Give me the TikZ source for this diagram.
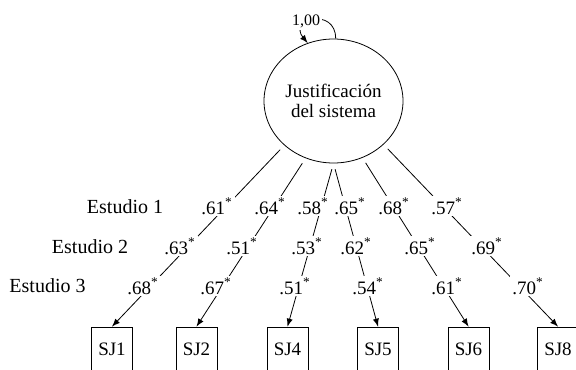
\documentclass[tikz,border=0pt]{standalone}
\usepackage{fontspec}
\setmainfont{Liberation Serif}
\usetikzlibrary{shapes,arrows,positioning}

\begin{document}
\begin{tikzpicture}[
    x=0.5pt, y=-0.5pt,
    >=latex,
    latent/.style={ellipse, draw, minimum width=69.5pt, minimum height=62pt, inner sep=0pt, align=center, font=\fontsize{9.5}{10}\selectfont},
    item/.style={rectangle, draw, minimum width=20.5pt, minimum height=22pt, inner sep=0pt, font=\fontsize{9.5}{11}\selectfont},
    load/.style={fill=white, inner sep=1pt, font=\fontsize{9.5}{11}\selectfont},
    study/.style={font=\fontsize{10}{12}\selectfont},
    path/.style={->, shorten <=3pt}
]
\useasboundingbox (0,0) rectangle (576,369);

% Latent factor
\node[latent] (sys) at (333.5,101) {Justificaci\'on\\del sistema};
\draw[->] (sys.88) .. controls +(0,-32) and +(-20,-24) .. (sys.114);
\node[load, font=\fontsize{8}{9}\selectfont] (var) at (306,21) {1,00};

% Items
\node[item] (sj1) at (112,349) {SJ1};
\node[item] (sj2) at (196.5,349) {SJ2};
\node[item] (sj4) at (287.5,349) {SJ4};
\node[item] (sj5) at (378,349) {SJ5};
\node[item] (sj6) at (468.5,349) {SJ6};
\node[item] (sj8) at (558,349) {SJ8};

% Loadings
\draw[path] (sys.222) -- (sj1.north);
\draw[path] (sys.244) -- (sj2.north);
\draw[path] (sys.south) -- (sj4.north);
\draw[path] (sys.south) -- (sj5.north);
\draw[path] (sys.297) -- (sj6.north);
\draw[path] (sys.319) -- (sj8.north);

% Study labels
\node[study] (est1) at (125,207) {Estudio 1};
\node[study] (est2) at (90,247) {Estudio 2};
\node[study] (est3) at (47.5,286) {Estudio 3};

% Estudio 1
\node[load] (e1sj1) at (217,206) {.61\textsuperscript{*}};
\node[load] (e1sj2) at (270,206) {.64\textsuperscript{*}};
\node[load] (e1sj4) at (313,206) {.58\textsuperscript{*}};
\node[load] (e1sj5) at (350,206) {.65\textsuperscript{*}};
\node[load] (e1sj6) at (394,206) {.68\textsuperscript{*}};
\node[load] (e1sj8) at (447,206) {.57\textsuperscript{*}};

% Estudio 2
\node[load] (e2sj1) at (180,246) {.63\textsuperscript{*}};
\node[load] (e2sj2) at (242,246) {.51\textsuperscript{*}};
\node[load] (e2sj4) at (307,246) {.53\textsuperscript{*}};
\node[load] (e2sj5) at (356,246) {.62\textsuperscript{*}};
\node[load] (e2sj6) at (420,246) {.65\textsuperscript{*}};
\node[load] (e2sj8) at (487,246) {.69\textsuperscript{*}};

% Estudio 3
\node[load] (e3sj1) at (143,286) {.68\textsuperscript{*}};
\node[load] (e3sj2) at (216,286) {.67\textsuperscript{*}};
\node[load] (e3sj4) at (295,286) {.51\textsuperscript{*}};
\node[load] (e3sj5) at (368,286) {.54\textsuperscript{*}};
\node[load] (e3sj6) at (447,286) {.61\textsuperscript{*}};
\node[load] (e3sj8) at (528,286) {.70\textsuperscript{*}};
\end{tikzpicture}
\end{document}
